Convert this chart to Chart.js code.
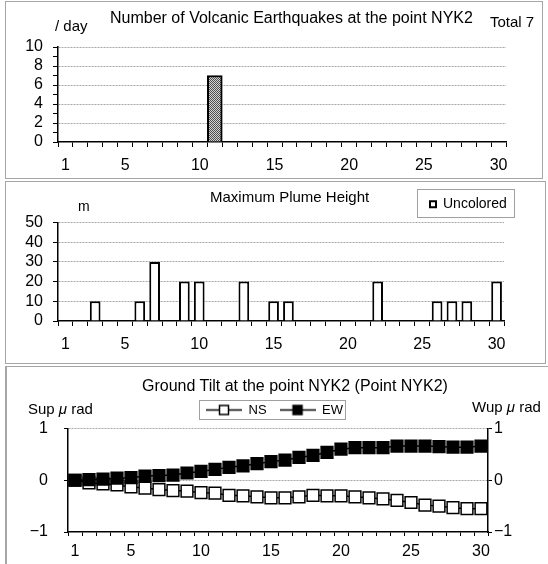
<!DOCTYPE html>
<html>
<head>
<meta charset="utf-8">
<script src="https://cdn.jsdelivr.net/npm/chart.js@4.4.1/dist/chart.umd.min.js"></script>
<style>
    body { margin: 0; background: #fff; width: 548px; height: 564px; position: relative; overflow: hidden;
           font-family: "Liberation Sans", Arial, sans-serif; color: #000; }
    .panel { position: absolute; border: 1px solid #a6a6a6; box-sizing: border-box; }
    canvas { position: absolute; left: 0; }
    .t { position: absolute; white-space: nowrap; font-size: 15px; line-height: 16px; height: 16px; }
</style>
</head>
<body>
<div class="panel" style="left:5px; top:1px; width:538px; height:178px;"></div>
<div class="panel" style="left:5px; top:181px; width:541px; height:183px;"></div>
<div class="panel" style="left:5px; top:366px; width:560px; height:220px; border-left-width:2px;"></div>

<canvas id="quakeChart" width="548" height="180" style="top:0"></canvas>
<canvas id="plumeChart" width="548" height="184" style="top:180px"></canvas>
<canvas id="tiltChart" width="548" height="198" style="top:366px"></canvas>

<span class="t" style="left:110px; top:10px; font-size:16px;">Number of Volcanic Earthquakes at the point NYK2</span>
<span class="t" style="left:55px; top:18px;">/ day</span>
<span class="t" style="left:490px; top:14px;">Total 7</span>

<span class="t" style="left:210px; top:189px;">Maximum Plume Height</span>
<span class="t" style="left:78px; top:198px; font-size:14px;">m</span>

<span class="t" style="left:142px; top:378px; font-size:16px;">Ground Tilt at the point NYK2 (Point NYK2)</span>
<span class="t" style="left:28px; top:401px;">Sup <i>μ</i> rad</span>
<span class="t" style="left:472px; top:399px;">Wup <i>μ</i> rad</span>

<script>
// --- data ---
const days = ['1', '2', '3', '4', '5', '6', '7', '8', '9', '10',
              '11', '12', '13', '14', '15', '16', '17', '18', '19', '20',
              '21', '22', '23', '24', '25', '26', '27', '28', '29', '30'];
const dayTicks = ['1', '5', '10', '15', '20', '25', '30'];

// volcanic earthquakes per day
const quakeCounts = [0, 0, 0, 0, 0, 0, 0, 0, 0, 0,
                     7, 0, 0, 0, 0, 0, 0, 0, 0, 0,
                     0, 0, 0, 0, 0, 0, 0, 0, 0, 0];

// max plume height (m), null = no plume observed
const plumeHeights = [null, null, 10, null, null, 10, 30, null, 20, 20,
                      null, null, 20, null, 10, 10, null, null, null, null,
                      null, 20, null, null, null, 10, 10, 10, null, 20];

// ground tilt (micro rad)
const tiltNS = [0, -0.05, -0.07, -0.09, -0.13, -0.15, -0.18, -0.2, -0.21, -0.24,
                -0.25, -0.29, -0.3, -0.32, -0.34, -0.34, -0.32, -0.29, -0.3, -0.3,
                -0.32, -0.34, -0.36, -0.39, -0.43, -0.48, -0.5, -0.53, -0.55, -0.55];
const tiltEW = [0, 0.01, 0.02, 0.04, 0.05, 0.08, 0.09, 0.1, 0.14, 0.17,
                0.21, 0.25, 0.28, 0.32, 0.36, 0.39, 0.44, 0.48, 0.54, 0.6,
                0.63, 0.63, 0.63, 0.66, 0.66, 0.66, 0.65, 0.64, 0.64, 0.66];

const xFont = { family: '"Liberation Sans", Arial, sans-serif', size: 16 };
const yFont = { family: '"Liberation Sans", Arial, sans-serif', size: 16 };
const gridGray = '#a8a8a8';

function dayLabel(value) {
    const lbl = this.getLabelForValue(value);
    return dayTicks.includes(lbl) ? lbl : '';
}

// stipple fill like the excel pattern
function makeStipple() {
    const c = document.createElement('canvas');
    c.width = 2; c.height = 2;
    const g = c.getContext('2d');
    g.fillStyle = '#d0d0d0'; g.fillRect(0, 0, 2, 2);
    g.fillStyle = '#505050'; g.fillRect(0, 0, 1, 1); g.fillRect(1, 1, 1, 1);
    return g.createPattern(c, 'repeat');
}

// small "line + square" icon for the tilt legend
function makeLineIcon(fill) {
    const c = document.createElement('canvas');
    c.width = 36; c.height = 13;
    const g = c.getContext('2d');
    g.strokeStyle = '#000'; g.lineWidth = 1.5;
    g.beginPath(); g.moveTo(0, 6.5); g.lineTo(36, 6.5); g.stroke();
    g.fillStyle = fill;
    g.fillRect(13.5, 2, 9, 9);
    g.lineWidth = 1.5;
    g.strokeRect(13.5, 2, 9, 9);
    return c;
}

// puts the legend at a fixed spot and draws a frame round it
function legendAt(cx, cy, frame) {
    return {
        id: 'legendAt',
        afterLayout(chart) {
            const lg = chart.legend;
            const pad = lg.options.labels.padding;
            lg.left = cx - pad;
            lg.top = cy - pad;
            lg.right = lg.left + 300;
            lg.bottom = lg.top + 60;
        },
        afterDraw(chart) {
            const ctx = chart.ctx;
            ctx.save();
            ctx.strokeStyle = '#a0a0a0';
            ctx.lineWidth = 1;
            ctx.strokeRect(frame[0] + 0.5, frame[1] + 0.5, frame[2], frame[3]);
            ctx.restore();
        }
    };
}

const minusLabel = v => (v < 0 ? '\u2212' + Math.abs(v) : v);

// --- chart 1: volcanic earthquakes ---
new Chart(document.getElementById('quakeChart'), {
    type: 'bar',
    data: {
        labels: days,
        datasets: [{
            label: 'Earthquakes',
            data: quakeCounts,
            backgroundColor: makeStipple(),
            borderColor: '#000',
            borderWidth: 2,
            barPercentage: 1,
            categoryPercentage: 1
        }]
    },
    options: {
        responsive: false,
        animation: false,
        devicePixelRatio: 1,
        events: [],
        layout: { padding: { left: 0, right: 42, top: 47, bottom: 0 } },
        plugins: { legend: { display: false }, tooltip: { enabled: false } },
        scales: {
            x: {
                offset: true,
                grid: { offset: true, drawOnChartArea: false, tickLength: 5, tickColor: '#000' },
                border: { color: '#000', width: 1.5 },
                ticks: { autoSkip: false, maxRotation: 0, padding: 9, color: '#000', font: xFont, callback: dayLabel },
                afterFit: s => { s.height = 38; }
            },
            y: {
                min: 0, max: 10,
                ticks: {
                    stepSize: 1, autoSkip: false, padding: 10, color: '#000', font: yFont,
                    callback: v => (v % 2 ? '' : v)
                },
                grid: {
                    color: ctx => (ctx.tick && (ctx.tick.value % 2 || ctx.tick.value === 0)) ? 'transparent' : gridGray,
                    tickColor: '#000',
                    tickLength: 5
                },
                border: { color: '#000', width: 1.5, dash: [2, 1] },
                afterFit: s => { s.width = 58; }
            }
        }
    }
});

// --- chart 2: plume height ---
new Chart(document.getElementById('plumeChart'), {
    type: 'bar',
    data: {
        labels: days,
        datasets: [{
            label: 'Uncolored',
            data: plumeHeights,
            backgroundColor: '#fff',
            borderColor: '#000',
            borderWidth: 2,
            barPercentage: 0.72,
            categoryPercentage: 1
        }]
    },
    options: {
        responsive: false,
        animation: false,
        devicePixelRatio: 1,
        events: [],
        layout: { padding: { left: 0, right: 44, top: 42, bottom: 0 } },
        plugins: {
            legend: {
                display: true,
                position: 'top',
                align: 'start',
                maxHeight: 0.5,
                labels: { boxWidth: 6, boxHeight: 6, padding: 4, color: '#000',
                          font: { family: '"Liberation Sans", Arial, sans-serif', size: 14 } }
            },
            tooltip: { enabled: false }
        },
        scales: {
            x: {
                offset: true,
                grid: { offset: true, drawOnChartArea: false, tickLength: 5, tickColor: '#000' },
                border: { color: '#000', width: 1.5 },
                ticks: { autoSkip: false, maxRotation: 0, padding: 9, color: '#000', font: xFont, callback: dayLabel },
                afterFit: s => { s.height = 43; }
            },
            y: {
                min: 0, max: 50,
                ticks: { stepSize: 10, autoSkip: false, padding: 10, color: '#000', font: yFont },
                grid: {
                    color: ctx => (ctx.tick && ctx.tick.value === 0) ? 'transparent' : gridGray,
                    tickColor: '#000',
                    tickLength: 5
                },
                border: { color: '#000', width: 1.5, dash: [2, 1] },
                afterFit: s => { s.width = 58; }
            }
        }
    },
    plugins: [legendAt(430, 17.3, [417, 9, 97, 28])]
});

// --- chart 3: ground tilt ---
const tiltIcons = [makeLineIcon('#fff'), makeLineIcon('#000')];

new Chart(document.getElementById('tiltChart'), {
    type: 'line',
    data: {
        labels: days,
        datasets: [
            {
                label: 'NS',
                data: tiltNS,
                order: 1,
                borderColor: '#000',
                borderWidth: 1.5,
                pointStyle: 'rect',
                pointRadius: 8.3,
                pointBorderWidth: 1.5,
                pointBorderColor: '#000',
                pointBackgroundColor: '#fff',
                tension: 0
            },
            {
                label: 'EW',
                data: tiltEW,
                order: 0,
                borderColor: '#000',
                borderWidth: 1.5,
                pointStyle: 'rect',
                pointRadius: 8.3,
                pointBorderWidth: 1.5,
                pointBorderColor: '#000',
                pointBackgroundColor: '#000',
                tension: 0
            }
        ]
    },
    options: {
        responsive: false,
        animation: false,
        devicePixelRatio: 1,
        events: [],
        layout: { padding: { left: 0, right: 0, top: 62, bottom: 0 } },
        plugins: {
            legend: {
                display: true,
                position: 'top',
                align: 'start',
                maxHeight: 0.5,
                labels: {
                    usePointStyle: true,
                    pointStyleWidth: 36,
                    padding: 13,
                    color: '#000',
                    font: { family: '"Liberation Sans", Arial, sans-serif', size: 13 },
                    generateLabels: chart => chart.data.datasets.map((ds, i) => ({
                        text: ds.label,
                        pointStyle: tiltIcons[i],
                        datasetIndex: i,
                        hidden: false,
                        lineWidth: 0,
                        fillStyle: 'transparent',
                        strokeStyle: 'transparent',
                        fontColor: '#000'
                    }))
                }
            },
            tooltip: { enabled: false }
        },
        scales: {
            x: {
                offset: true,
                grid: { offset: true, drawOnChartArea: false, tickLength: 4, tickColor: '#000' },
                border: { color: '#000', width: 1.5 },
                ticks: { autoSkip: false, maxRotation: 0, padding: 6, color: '#000', font: xFont, callback: dayLabel },
                afterFit: s => { s.height = 32; }
            },
            y: {
                min: -1, max: 1,
                ticks: { stepSize: 1, autoSkip: false, padding: 16, color: '#000', font: yFont, callback: minusLabel },
                grid: { color: ctx => (ctx.tick && ctx.tick.value === -1) ? 'transparent' : gridGray,
                        tickColor: '#000', tickLength: 4 },
                border: { color: '#000', width: 1.5, dash: [2, 1] },
                afterFit: s => { s.width = 68; }
            },
            y2: {
                position: 'right',
                min: -1, max: 1,
                ticks: { stepSize: 1, autoSkip: false, padding: 2, color: '#000', font: yFont, callback: minusLabel },
                grid: { drawOnChartArea: false, tickColor: '#000', tickLength: 4 },
                border: { color: '#000', width: 1.5 },
                afterFit: s => { s.width = 60; }
            }
        }
    },
    plugins: [legendAt(206, 37.5, [199, 34, 146, 19])]
});
</script>
</body>
</html>
